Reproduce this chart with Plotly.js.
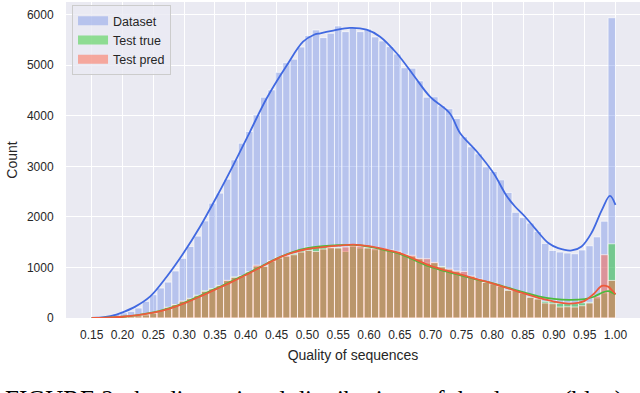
<!DOCTYPE html>
<html>
<head>
<meta charset="utf-8">
<script src="https://cdn.plot.ly/plotly-3.0.1.min.js"></script>
<style>
  html, body { margin: 0; padding: 0; background: #fff; }
  #chart { width: 640px; height: 393px; }
</style>
</head>
<body>
<div id="chart"></div>
<script>
// histogram bins (71 bins ending at 1.0)
const binStart = 0.148;
const binWidth = 0.012;

const datasetCounts = [
    8, 22, 45, 75, 100, 130, 197, 329, 461, 593,
    710, 930, 1180, 1415, 1620, 1920, 2272, 2470, 2747, 3128,
    3458, 3688, 4018, 4367, 4512, 4860, 5050, 5120, 5360, 5590,
    5698, 5546, 5632, 5777, 5664, 5745, 5664, 5715, 5560, 5480,
    5368, 5220, 4950, 4941, 4690, 4368, 4375, 4196, 4140, 3945,
    3585, 3385, 3247, 2990, 2900, 2733, 2483, 2090, 1985, 1877,
    1712, 1475, 1336, 1305, 1285, 1271, 1345, 1429, 1605, 1915,
    5940
];

const testTrueCounts = [
    3, 6, 10, 16, 22, 33, 46, 62, 100, 144,
    212, 266, 329, 390, 452, 540, 585, 645, 737, 815,
    822, 915, 1020, 1030, 1120, 1200, 1218, 1270, 1330, 1400,
    1395, 1420, 1383, 1395, 1316, 1415, 1383, 1400, 1350, 1364,
    1345, 1310, 1260, 1218, 1166, 1087, 1090, 1020, 955, 921,
    836, 822, 757, 704, 690, 625, 555, 540, 500, 420,
    390, 330, 320, 290, 295, 285, 300, 310, 395, 494,
    1468
];

const testPredCounts = [
    3, 7, 11, 15, 24, 32, 45, 64, 99, 148,
    210, 263, 335, 381, 441, 526, 573, 638, 745, 803,
    840, 909, 1045, 1020, 1135, 1186, 1230, 1251, 1304, 1336,
    1316, 1364, 1395, 1383, 1405, 1440, 1420, 1383, 1375, 1364,
    1336, 1320, 1251, 1240, 1180, 1173, 1100, 1008, 970, 930,
    921, 830, 770, 704, 678, 640, 546, 545, 494, 408,
    375, 296, 283, 217, 222, 217, 243, 296, 430, 1252,
    743
];

// KDE curves
const kdeDatasetX = [0.150, 0.170, 0.190, 0.200, 0.220, 0.245, 0.272, 0.299, 0.326, 0.353,
    0.380, 0.407, 0.434, 0.467, 0.493, 0.510, 0.521, 0.542, 0.569, 0.596,
    0.618, 0.645, 0.672, 0.699, 0.731, 0.748, 0.775, 0.802, 0.824, 0.837,
    0.853, 0.869, 0.891, 0.907, 0.929, 0.945, 0.961, 0.978, 0.991, 1.000];
const kdeDatasetY = [0, 15, 65, 111, 220, 427, 822, 1285, 1810, 2403,
    3030, 3688, 4348, 5006, 5466, 5599, 5632, 5684, 5740, 5705,
    5565, 5237, 4808, 4379, 4051, 3656, 3293, 2866, 2403, 2206,
    2008, 1779, 1482, 1383, 1336, 1415, 1680, 2140, 2417, 2239];

const kdeTestX = [0.150, 0.175, 0.200, 0.225, 0.250, 0.275, 0.300, 0.325, 0.350, 0.375,
    0.400, 0.425, 0.450, 0.475, 0.500, 0.525, 0.550, 0.575, 0.600, 0.625,
    0.650, 0.675, 0.700, 0.725, 0.750, 0.775, 0.800, 0.825, 0.850, 0.875,
    0.900, 0.925, 0.950, 0.965, 0.978, 0.988, 0.995, 1.000];
const kdeTrueY = [0, 8, 25, 58, 110, 190, 300, 435, 575, 715,
    865, 1020, 1175, 1300, 1380, 1420, 1440, 1445, 1410, 1345,
    1270, 1140, 1010, 920, 840, 760, 690, 600, 510, 430,
    380, 360, 375, 420, 500, 530, 500, 465];
const kdePredY = [0, 8, 25, 55, 105, 180, 290, 420, 560, 700,
    850, 1010, 1170, 1290, 1365, 1400, 1430, 1450, 1420, 1360,
    1285, 1160, 1030, 940, 856, 770, 685, 590, 490, 400,
    325, 285, 340, 480, 635, 620, 540, 470];

const seriesNames = ['Dataset', 'Test true', 'Test pred'];

const binCenters = datasetCounts.map((_, i) => binStart + binWidth * (i + 0.5));

const FONT = 'Liberation Sans, Arial, sans-serif';
const edge = { color: 'rgba(255,255,255,0.8)', width: 0.8 };
const fills = ['rgba(65,105,225,0.3)', 'rgba(50,205,50,0.5)', 'rgba(255,99,71,0.5)'];

const traces = [
    {
        type: 'bar', name: seriesNames[0], x: binCenters, y: datasetCounts, width: binWidth,
        marker: { color: fills[0], line: edge }, showlegend: false
    },
    {
        type: 'bar', name: seriesNames[1], x: binCenters, y: testTrueCounts, width: binWidth,
        marker: { color: fills[1], line: edge }, showlegend: false
    },
    {
        type: 'bar', name: seriesNames[2], x: binCenters, y: testPredCounts, width: binWidth,
        marker: { color: fills[2], line: edge }, showlegend: false
    },
    {
        type: 'scatter', mode: 'lines', x: kdeDatasetX, y: kdeDatasetY, showlegend: false,
        line: { color: '#4169E1', width: 1.8, shape: 'spline', smoothing: 1 }, hoverinfo: 'skip'
    },
    {
        type: 'scatter', mode: 'lines', x: kdeTestX, y: kdeTrueY, showlegend: false,
        line: { color: '#4cbb3c', width: 1.8, shape: 'spline', smoothing: 1 }, hoverinfo: 'skip'
    },
    {
        type: 'scatter', mode: 'lines', x: kdeTestX, y: kdePredY, showlegend: false,
        line: { color: '#ee5a3c', width: 1.8, shape: 'spline', smoothing: 1 }, hoverinfo: 'skip'
    }
];

// wide legend patches like matplotlib's
seriesNames.forEach((name, i) => {
    traces.push({
        type: 'scatter', mode: 'lines', name: name, x: [null], y: [null],
        line: { color: fills[i], width: 9 }, showlegend: true, hoverinfo: 'skip'
    });
});

const layout = {
    width: 640,
    height: 393,
    margin: { l: 66, r: 0, t: 2, b: 75 },
    paper_bgcolor: '#ffffff',
    plot_bgcolor: '#EAEAF2',
    barmode: 'overlay',
    bargap: 0,
    font: { family: FONT, size: 12, color: '#262626' },
    xaxis: {
        range: [0.1083, 1.0398],
        tick0: 0.15, dtick: 0.05, tickformat: '.2f',
        showgrid: true, gridcolor: '#ffffff', gridwidth: 1,
        zeroline: false, showline: false,
        ticks: 'outside', ticklen: 6, tickcolor: 'rgba(0,0,0,0)',
        tickfont: { size: 12, color: '#262626' },
        title: { text: 'Quality of sequences', font: { size: 14, color: '#262626' }, standoff: 8 }
    },
    yaxis: {
        range: [0, 6251],
        dtick: 1000, tickformat: 'd',
        showgrid: true, gridcolor: '#ffffff', gridwidth: 1,
        zeroline: false, showline: false,
        ticks: 'outside', ticklen: 9, tickcolor: 'rgba(0,0,0,0)',
        tickfont: { size: 12, color: '#262626' },
        title: { text: 'Count', font: { size: 14, color: '#262626' }, standoff: 5 }
    },
    legend: {
        x: 0.0105, y: 0.99, xanchor: 'left', yanchor: 'top',
        bgcolor: 'rgba(234,234,242,0.8)', bordercolor: '#cccccc', borderwidth: 1,
        font: { size: 12.5, color: '#262626' },
        itemwidth: 30,
        traceorder: 'normal'
    },
    annotations: [{
        text: 'FIGURE 2: the dimensional distributions of the dataset (blue)',
        xref: 'paper', yref: 'paper',
        x: (3 - 66) / 574, y: (318 - 384) / 316,
        xanchor: 'left', yanchor: 'top', showarrow: false,
        font: { family: 'Liberation Serif, Times New Roman, serif', size: 25, color: '#000000' }
    }],
    showlegend: true
};

Plotly.newPlot('chart', traces, layout, { displayModeBar: false, staticPlot: true });
</script>
</body>
</html>
